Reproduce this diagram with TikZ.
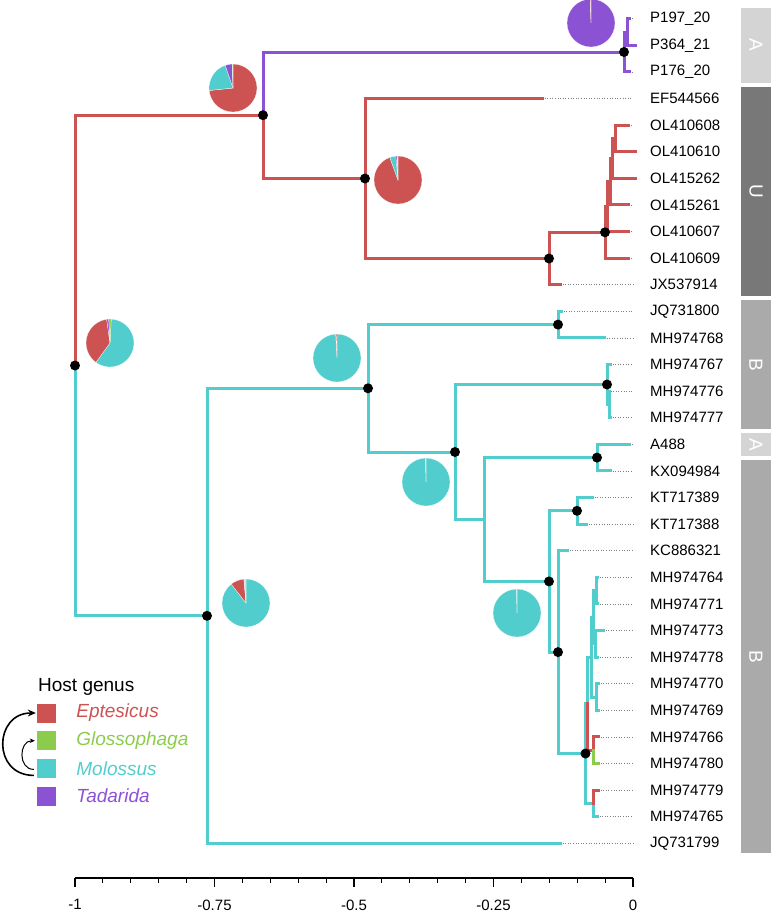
\documentclass[tikz,border=0pt]{standalone}
\usepackage{fontspec}
\setmainfont{Liberation Sans}
\usetikzlibrary{positioning, arrows.meta, calc}

\definecolor{eptcol}{RGB}{205,82,82}
\definecolor{glocol}{RGB}{140,204,76}
\definecolor{molcol}{RGB}{82,205,205}
\definecolor{tadcol}{RGB}{140,82,212}
\definecolor{stripA}{RGB}{212,212,212}
\definecolor{stripU}{RGB}{120,120,120}
\definecolor{stripB}{RGB}{170,170,170}

% pie at a node: centre, list of from/to/colour (degrees clockwise from top)
\newcommand{\hostpie}[2]{%
  \foreach \pa/\pb/\pc in {#2}
    \fill[\pc, draw=white, line width=0.25pt] (#1) -- ++({\pa-90}:24)
      arc[start angle={\pa-90}, end angle={\pb-90}, radius=24] -- cycle;}

\begin{document}
\begin{tikzpicture}[
      x=1pt, y=-1pt,
      every node/.style={font=\fontsize{15}{18}\selectfont},
      branch/.style={line width=3pt, line cap=rect},
      ept/.style={branch, draw=eptcol},
      glo/.style={branch, draw=glocol},
      mol/.style={branch, draw=molcol},
      tad/.style={branch, draw=tadcol},
      leader/.style={draw=gray, line width=0.6pt, dash pattern=on 1pt off 1.6pt},
      tiplab/.style={anchor=west, inner sep=0pt},
      dot/.style={circle, fill=black, inner sep=0pt, minimum size=10pt},
      key/.style={minimum size=19pt, inner sep=0pt},
      keylab/.style={anchor=west, inner sep=0pt, font=\fontsize{19}{22}\selectfont\itshape},
      strip/.style={rotate=-90, minimum height=30pt, inner sep=0pt, text=white,
                    font=\fontsize{19}{22}\selectfont},
      curl/.style={-{Stealth[length=8pt, width=7pt]}, line width=1.6pt}
]
  \useasboundingbox (0,0) rectangle (771,916);

  % Tips
  \coordinate (zero) at (633, 0);
  \foreach \lab/\tx [count=\i from 0] in {
      P197\_20/629, P364\_21/635, P176\_20/629, EF544566/542,
      OL410608/628, OL410610/635, OL415262/635, OL415261/628,
      OL410607/628, OL410609/628, JX537914/560, JQ731800/561,
      MH974768/604, MH974767/610, MH974776/608, MH974777/610,
      A488/629, KX094984/610, KT717389/592, KT717388/586,
      KC886321/567, MH974764/597, MH974771/597, MH974773/603,
      MH974778/597, MH974770/598, MH974769/598, MH974766/598,
      MH974780/598, MH974779/598, MH974765/597, JQ731799/560} {
    \coordinate (t\i) at (\tx, {18.7+26.6*\i});
    \node[tiplab] (l\i) at (650, {18.7+26.6*\i}) {\lab};
    \draw[leader] (t\i) -- (t\i -| zero);
  }

  % Internal nodes
  \coordinate (root) at (75, 365.5);
  \coordinate (A)   at (263, 115.2);
  \coordinate (Pn)  at (624, 52);
  \coordinate (Pn2) at (627, 32);
  \coordinate (B)   at (365, 178.5);
  \coordinate (C)   at (549, 258.5);
  \coordinate (D)   at (605, 232.3);
  \coordinate (D2)  at (607, 206.6);
  \coordinate (E)   at (610, 181.6);
  \coordinate (E3)  at (612, 158.4);
  \coordinate (F)   at (615, 138.4);
  \coordinate (G)   at (207, 615.8);
  \coordinate (H)   at (368, 388.3);
  \coordinate (I)   at (558, 324.6);
  \coordinate (J)   at (455, 452);
  \coordinate (K)   at (607, 384.5);
  \coordinate (K2)  at (609, 404.4);
  \coordinate (L)   at (484, 519.5);
  \coordinate (M)   at (597, 457.6);
  \coordinate (N)   at (549, 581.4);
  \coordinate (O)   at (577, 510.8);
  \coordinate (P)   at (558, 652.1);
  \coordinate (Q)   at (585.5, 753.5);
  \coordinate (S)   at (593, 803.4);
  \coordinate (V)   at (587.5, 703.6);
  \coordinate (T)   at (593, 750.2);
  \coordinate (W)   at (591, 657.1);
  \coordinate (X)   at (593, 617.2);
  \coordinate (X2)  at (596, 590.6);
  \coordinate (X3)  at (595, 643.8);
  \coordinate (Y)   at (596, 697);

  % Branches
  \foreach \p/\c in {root/G, G/H, G/t31, H/I, I/t11, I/t12, H/J, J/K, K/t13,
      K/K2, K2/t14, K2/t15, J/L, L/M, M/t16, M/t17, L/N, N/O, O/t18, O/t19,
      N/P, P/t20, P/Q, Q/V, Q/S, S/t30, V/W, W/X, X/X2, X2/t21, X2/t22,
      X/X3, X3/t23, X3/t24, W/Y, Y/t25, Y/t26}
    \draw[mol] (\p) |- (\c);
  \foreach \p/\c in {root/A, A/B, B/t3, B/C, C/t10, C/D, D/t9, D/D2, D2/t8,
      D2/E, E/t7, E/E3, E3/t6, E3/F, F/t4, F/t5, V/T, T/t27, S/t29}
    \draw[ept] (\p) |- (\c);
  \draw[glo] (T) |- (t28);
  \foreach \p/\c in {A/Pn, Pn/Pn2, Pn2/t0, Pn2/t1, Pn/t2}
    \draw[tad] (\p) |- (\c);

  \foreach \n in {root, A, Pn, B, C, D, G, H, I, J, K, M, O, N, P, Q}
    \node[dot] at (\n) {};

  % Ancestral host pies
  \coordinate (piePn)   at (591, 23);
  \coordinate (pieA)    at (233, 88);
  \coordinate (pieB)    at (398, 180);
  \coordinate (pieRoot) at (110, 343);
  \coordinate (pieG)    at (246, 603);
  \coordinate (pieH)    at (337, 358);
  \coordinate (pieJ)    at (426, 482);
  \coordinate (pieN)    at (517, 613);
  \hostpie{piePn}{0/358/tadcol, 358/360/eptcol}
  \hostpie{pieA}{0/264/eptcol, 264/341/molcol, 341/358/tadcol, 358/360/glocol}
  \hostpie{pieB}{0/340/eptcol, 340/355/molcol, 355/358.5/tadcol, 358.5/360/glocol}
  \hostpie{pieRoot}{3/216/molcol, 216/352/eptcol, 352/357/tadcol, 357/363/glocol}
  \hostpie{pieG}{0/322/molcol, 322/355/eptcol, 355/360/black!15}
  \hostpie{pieH}{0/357/molcol, 357/359.5/eptcol}
  \hostpie{pieJ}{0/359.2/molcol, 359.2/360/black!15}
  \hostpie{pieN}{0/359.2/molcol, 359.2/360/black!15}

  % Clade strips
  \node[strip, fill=stripA, minimum width=75.5pt] (sA1) at (756, 45.3) {A};
  \node[strip, fill=stripU, minimum width=209pt]  (sU)  at (756, 191.5) {U};
  \node[strip, fill=stripB, minimum width=129pt]  (sB1) at (756, 364.5) {B};
  \node[strip, fill=stripA, minimum width=23pt]   (sA2) at (756, 444.5) {A};
  \node[strip, fill=stripB, minimum width=393pt]  (sB2) at (756, 656.5) {B};

  % Legend
  \node[anchor=west, inner sep=0pt, font=\fontsize{19}{22}\selectfont] (keytitle) at (38, 687) {Host genus};
  \node[key, fill=eptcol] (kEpt) at (46.5, 713) {};
  \node[key, fill=glocol, below=8.3pt of kEpt] (kGlo) {};
  \node[key, fill=molcol, below=8.3pt of kGlo] (kMol) {};
  \node[key, fill=tadcol, below=8.3pt of kMol] (kTad) {};
  \node[keylab, text=eptcol, right=20pt of kEpt] (lEpt) {Eptesicus};
  \node[keylab, text=glocol, right=20pt of kGlo] (lGlo) {Glossophaga};
  \node[keylab, text=molcol, right=20pt of kMol] (lMol) {Molossus};
  \node[keylab, text=tadcol, right=20pt of kTad] (lTad) {Tadarida};
  \draw[curl] ([xshift=-3pt, yshift=-7pt]kMol.west) .. controls +(-42,0) and +(-42,0) .. ([xshift=-1pt]kEpt.west);
  \draw[-{Stealth[length=5pt, width=4.5pt]}, line width=1pt]
    ([xshift=-3pt, yshift=-1pt]kMol.west) .. controls +(-16,0) and +(-16,0) .. ([xshift=-2pt]kGlo.west);

  % Time axis
  \coordinate (axL) at (75, 878);
  \coordinate (axR) at (633, 878);
  \draw[line width=1.1pt] (axL) -- (axR);
  \foreach \k in {0,...,20}
    \draw[line width=1.1pt] ($(axL)!\k/20!(axR)$) -- ++(0,5);
  \foreach \v [count=\k from 0] in {-1,-0.75,-0.5,-0.25,0}
    \draw[line width=1.1pt] ($(axL)!\k/4!(axR)$) -- ++(0,9)
      node[below=12pt, inner sep=0pt, anchor=north] (tick\k) {\v};
\end{tikzpicture}
\end{document}
